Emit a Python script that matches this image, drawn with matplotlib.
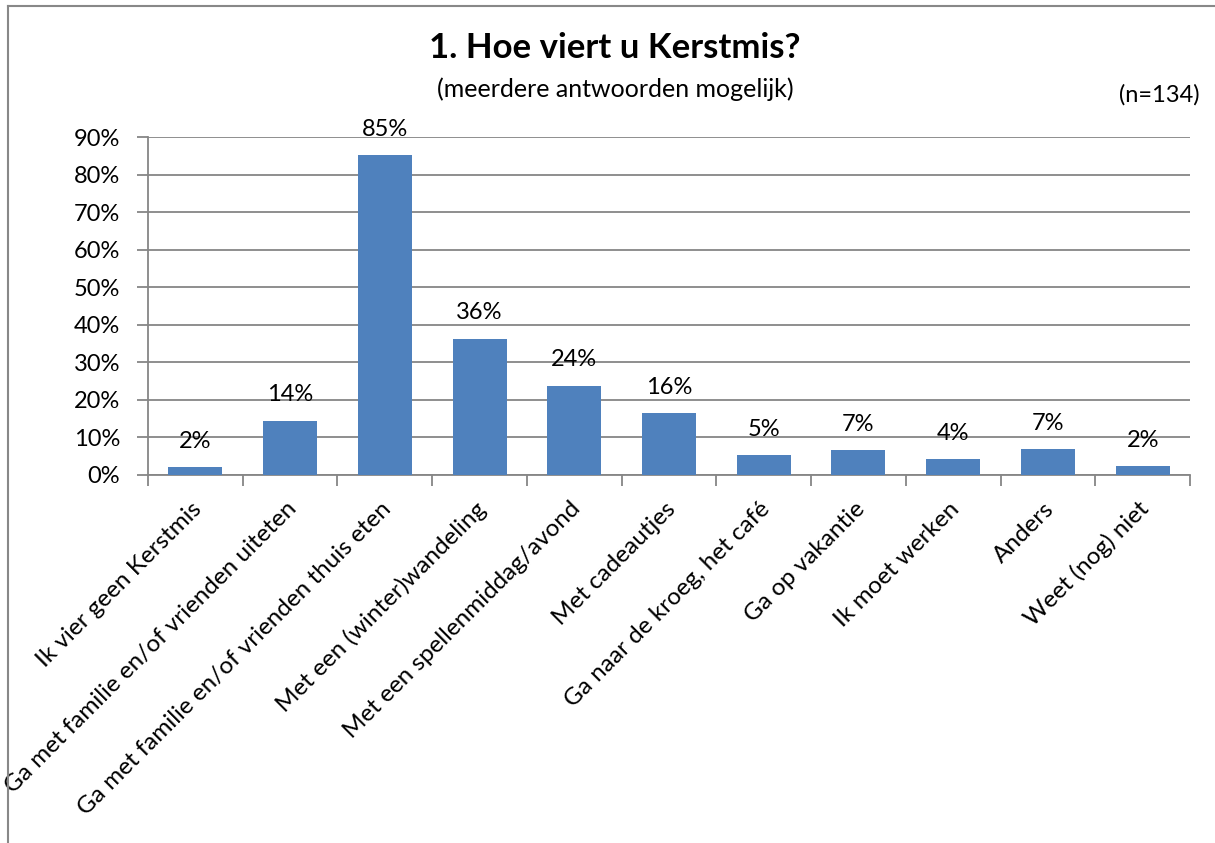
import numpy as np
import matplotlib.pyplot as plt
from matplotlib.lines import Line2D

plt.rcParams['font.family'] = ['Lato', 'DejaVu Sans']

categories = [
    'Ik vier geen Kerstmis',
    'Ga met familie en/of vrienden uiteten',
    'Ga met familie en/of vrienden thuis eten',
    'Met een (winter)wandeling',
    'Met een spellenmiddag/avond',
    'Met cadeautjes',
    'Ga naar de kroeg, het café',
    'Ga op vakantie',
    'Ik moet werken',
    'Anders',
    'Weet (nog) niet',
]
values = [2.0, 14.5, 85.2, 36.3, 23.8, 16.5, 5.2, 6.7, 4.2, 6.8, 2.4]
labels = ['2%', '14%', '85%', '36%', '24%', '16%', '5%', '7%', '4%', '7%', '2%']
yticks = [0, 10, 20, 30, 40, 50, 60, 70, 80, 90]

grid_c = '#868686'
bar_c = '#4F81BD'

fig = plt.figure(figsize=(12.15, 8.43), dpi=100)
ax = fig.add_axes([148/1215, 1 - 475/843, 1042/1215, 338/843])

x = np.arange(len(categories))
ax.bar(x, values, width=0.57, color=bar_c, zorder=3)
for xi, v, lab in zip(x, values, labels):
    ax.annotate(lab, xy=(xi, v), xytext=(0, 11), textcoords='offset points',
                ha='center', va='bottom', fontsize=17, color='black')

ax.set_xlim(-0.5, len(categories) - 0.5)
ax.set_ylim(0, 90)
ax.set_yticks(yticks)
ax.set_yticklabels([f'{t}%' for t in yticks], fontsize=17)
ax.yaxis.grid(True, color=grid_c, lw=1.3, zorder=0)
ax.tick_params(axis='y', length=8, width=1.3, color=grid_c, pad=12)

ax.set_xticks(np.arange(len(categories) + 1) - 0.5)
ax.set_xticklabels([])
ax.tick_params(axis='x', length=8, width=1.3, color=grid_c, direction='out')
for xi, cat in zip(x, categories):
    ax.annotate(cat, xy=(xi, 0), xycoords='data', xytext=(2, -22),
                textcoords='offset points', rotation=45, ha='right', va='center',
                rotation_mode='anchor', fontsize=17.5, annotation_clip=False)

for s in ['top', 'right']:
    ax.spines[s].set_visible(False)
for s in ['left', 'bottom']:
    ax.spines[s].set_color(grid_c)
    ax.spines[s].set_linewidth(1.3)

fig.text(615/1215, 1 - 48/843, '1. Hoe viert u Kerstmis?', ha='center', va='center',
         fontsize=25, fontweight='bold')
fig.text(615/1215, 1 - 89/843, '(meerdere antwoorden mogelijk)', ha='center', va='center',
         fontsize=18)
fig.text(1200/1215, 1 - 95/843, '(n=134)', ha='right', va='center', fontsize=17)

fig.add_artist(Line2D([8/1215, 8/1215], [0, 1 - 6/843], color='#888888', lw=1.5,
                      transform=fig.transFigure))
fig.add_artist(Line2D([8/1215, 1], [1 - 6/843, 1 - 6/843], color='#888888', lw=1.5,
                      transform=fig.transFigure))

fig.savefig('out.png', dpi=100)
